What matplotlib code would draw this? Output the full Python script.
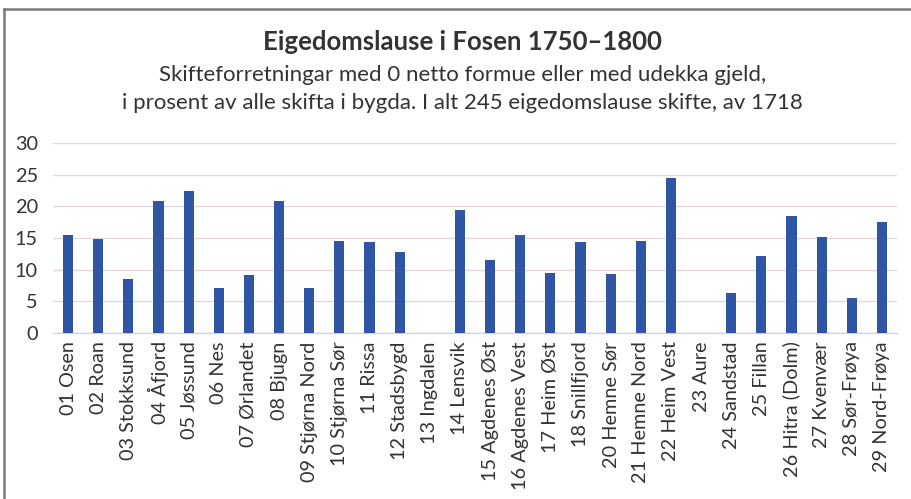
import matplotlib.pyplot as plt
from matplotlib.lines import Line2D

bygder = ["01 Osen", "02 Roan", "03 Stokksund", "04 Åfjord", "05 Jøssund",
          "06 Nes", "07 Ørlandet", "08 Bjugn", "09 Stjørna Nord", "10 Stjørna Sør",
          "11 Rissa", "12 Stadsbygd", "13 Ingdalen", "14 Lensvik", "15 Agdenes Øst",
          "16 Agdenes Vest", "17 Heim Øst", "18 Snillfjord", "20 Hemne Sør",
          "21 Hemne Nord", "22 Heim Vest", "23 Aure", "24 Sandstad", "25 Fillan",
          "26 Hitra (Dolm)", "27 Kvenvær", "28 Sør-Frøya", "29 Nord-Frøya"]
prosent = [15.4, 14.9, 8.6, 20.9, 22.5, 7.1, 9.2, 20.9, 7.1, 14.6,
           14.4, 12.8, 0, 19.5, 11.6, 15.4, 9.5, 14.3, 9.3,
           14.6, 24.4, 0, 6.3, 12.2, 18.4, 15.2, 5.6, 17.6]
yticks = [0, 5, 10, 15, 20, 25, 30]

plt.rcParams['font.family'] = ['Lato', 'DejaVu Sans']
tekst = '#333333'

fig = plt.figure(figsize=(9.12, 4.99), dpi=100)
ax = fig.add_axes([53/912, 1 - 333/499, 844/912, 190/499])

ax.bar(range(len(bygder)), prosent, width=0.34, color='#2F55A5', zorder=3)
ax.set_xlim(-0.5, len(bygder) - 0.5)
ax.set_ylim(0, 30)
ax.set_yticks(yticks)
ax.set_xticks(range(len(bygder)))
ax.set_xticklabels(bygder, rotation=90, fontsize=14.3, color=tekst)
ax.tick_params(axis='y', labelsize=14.3, labelcolor=tekst, length=0, pad=11)
ax.tick_params(axis='x', length=0, pad=6)
ax.grid(axis='y', color='#E3D9D9', linewidth=1, zorder=0)
for s in ['top', 'right', 'left']:
    ax.spines[s].set_visible(False)
ax.spines['bottom'].set_color('#D0D0D0')

fig.text(0.507, 1 - 42/499, "Eigedomslause i Fosen 1750–1800", ha='center', va='center',
         fontsize=18.5, fontweight='bold', color=tekst)
fig.text(0.507, 1 - 75/499, "Skifteforretningar med 0 netto formue eller med udekka gjeld,",
         ha='center', va='center', fontsize=16, color=tekst)
fig.text(0.507, 1 - 103/499, "i prosent av alle skifta i bygda. I alt 245 eigedomslause skifte, av 1718",
         ha='center', va='center', fontsize=16, color=tekst)

# ramme oppe og til venstre
fig.add_artist(Line2D([4/912, 1], [1 - 9/499, 1 - 9/499], color='#7A7A7A', linewidth=1.8))
fig.add_artist(Line2D([4/912, 4/912], [0, 1 - 9/499], color='#7A7A7A', linewidth=1.8))

fig.savefig('out.png', dpi=100)
